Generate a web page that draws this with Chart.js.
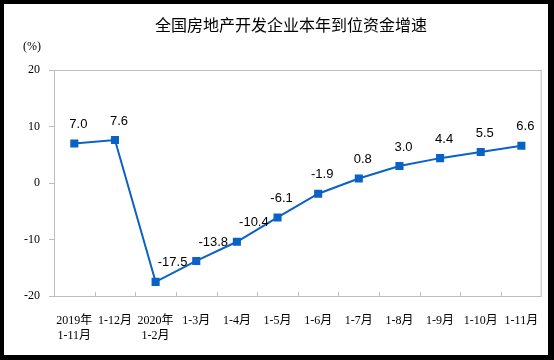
<!DOCTYPE html>
<html>
<head>
<meta charset="utf-8">
<script src="https://cdn.jsdelivr.net/npm/chart.js@4.4.1/dist/chart.umd.min.js"></script>
<style>
  html, body { margin: 0; padding: 0; background: #000; }
  body { width: 554px; height: 360px; position: relative; overflow: hidden; }
  #wrap { position: absolute; left: 4px; top: 4px; width: 544px; height: 351px; background: #fff; }
</style>
</head>
<body>
<div id="wrap"><canvas id="chart"></canvas></div>
<script>
// ─── data ────────────────────────────────────────────────────────
const title = "全国房地产开发企业本年到位资金增速";
const categories = [
  ["2019年", "1-11月"], "1-12月", ["2020年", "1-2月"], "1-3月", "1-4月", "1-5月",
  "1-6月", "1-7月", "1-8月", "1-9月", "1-10月", "1-11月"
];
const growth = [7.0, 7.6, -17.5, -13.8, -10.4, -6.1, -1.9, 0.8, 3.0, 4.4, 5.5, 6.6];
const yTicks = [-20, -10, 0, 10, 20];

const BLUE = "#0a62c4";
const AXIS = "#bdbdbd";
const SERIF = "SimSun, 'Liberation Serif', 'Noto Sans CJK SC', serif";

// small nudges for a few value labels (px, to the right)
const labelNudge = { 2: 13, 3: 13, 4: 13 };

// ─── plugin: title, box round plot area, inside x ticks, value labels ───
const decor = {
  id: "decor",
  afterDraw(chart) {
    const { ctx, chartArea: a, scales } = chart;
    const x = scales.x;
    ctx.save();

    // title (sits a little right of centre, as in the source)
    ctx.fillStyle = "#000";
    ctx.font = "16px 'Noto Sans CJK SC', sans-serif";
    ctx.textAlign = "center";
    ctx.textBaseline = "middle";
    ctx.fillText(title, 287, 21);

    // plot area box
    ctx.strokeStyle = AXIS;
    ctx.lineWidth = 1;
    ctx.strokeRect(a.left + 0.5, a.top + 0.5, a.right - a.left - 1, a.bottom - a.top);

    // x ticks between categories, pointing up
    ctx.beginPath();
    for (let i = 1; i < categories.length; i++) {
      const px = Math.round((x.getPixelForTick(i - 1) + x.getPixelForTick(i)) / 2) + 0.5;
      ctx.moveTo(px, a.bottom);
      ctx.lineTo(px, a.bottom - 4);
    }
    ctx.stroke();

    // "(%)"
    ctx.font = "12px " + SERIF;
    ctx.fillText("(%)", 28, 43);

    // value labels
    const meta = chart.getDatasetMeta(0);
    ctx.font = "13px 'Liberation Sans', Arial, sans-serif";
    meta.data.forEach((pt, i) => {
      ctx.fillText(growth[i].toFixed(1), pt.x + 4 + (labelNudge[i] || 0), pt.y - 19);
    });
    ctx.restore();
  }
};

new Chart(document.getElementById("chart"), {
  type: "line",
  data: {
    labels: categories,
    datasets: [{
      data: growth,
      borderColor: BLUE,
      backgroundColor: BLUE,
      borderWidth: 2,
      pointStyle: "rect",
      pointRadius: 4.3,
      pointHoverRadius: 4.3,
      tension: 0
    }]
  },
  options: {
    responsive: true,
    maintainAspectRatio: false,
    animation: false,
    layout: { padding: { top: 66, right: 1 } },
    plugins: {
      legend: { display: false },
      tooltip: { enabled: false },
      title: { display: false }
    },
    scales: {
      x: {
        offset: true,
        grid: { display: false },
        border: { display: false },
        ticks: {
          color: "#000",
          padding: 9,
          maxRotation: 0,
          autoSkip: false,
          font: { family: SERIF, size: 12, lineHeight: 1.25 }
        },
        afterFit(scale) { scale.height = 59; }
      },
      y: {
        min: -20,
        max: 20,
        afterBuildTicks(scale) { scale.ticks = yTicks.map(v => ({ value: v })); },
        grid: { drawOnChartArea: false, drawTicks: true, tickLength: 5, color: AXIS },
        border: { display: false },
        ticks: {
          color: "#000",
          padding: 9,
          font: { family: SERIF, size: 12 }
        },
        afterFit(scale) { scale.width = 50; }
      }
    }
  },
  plugins: [decor]
});
</script>
</body>
</html>
